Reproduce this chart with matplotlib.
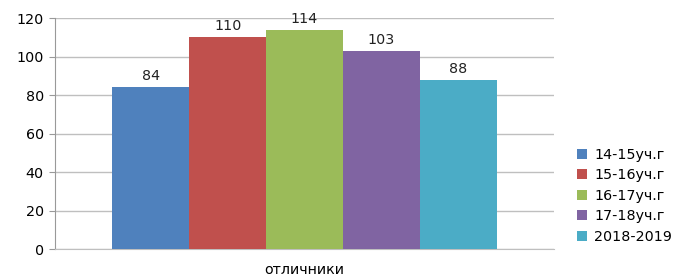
import numpy as np
import matplotlib
matplotlib.use("Agg")
import matplotlib.pyplot as plt

#Dados do grafico
series = ['14-15уч.г', '15-16уч.г', '16-17уч.г', '17-18уч.г', '2018-2019']
valores = [84, 110, 114, 103, 88]
cores = ['#4F81BD', '#C0504D', '#9BBB59', '#8064A2', '#4BACC6']
categoria = 'отличники'

plt.rcParams['font.family'] = 'DejaVu Sans'
fs = 10.3

fig = plt.figure(figsize=(6.74, 2.78), dpi=100)
ax = fig.add_axes([0.0816, 0.1043, 0.7404, 0.8309])

largura = 0.77 / len(series)
x0 = -0.77 / 2 + largura / 2
for i in range(len(series)):
    xpos = x0 + i * largura
    ax.bar(xpos, valores[i], width=largura, color=cores[i], label=series[i], zorder=3)
    ax.text(xpos, valores[i] + 2, str(valores[i]), ha='center', va='bottom', fontsize=fs, color='#222222')

ax.set_xlim(-0.5, 0.5)
ax.set_ylim(0, 120)
ax.set_yticks(np.arange(0, 121, 20))
ax.tick_params(axis='y', labelsize=fs, length=4, color='#999999', pad=4)
ax.set_xticks([0])
ax.set_xticklabels([categoria], fontsize=fs)
ax.tick_params(axis='x', length=0, pad=10)
ax.grid(axis='y', color='#BFBFBF', linewidth=1, zorder=0)
for s in ['top', 'right']:
    ax.spines[s].set_visible(False)
ax.spines['left'].set_color('#999999')
ax.spines['bottom'].set_color('#BFBFBF')

ax.legend(loc='center left', bbox_to_anchor=(1.02, 0.23), frameon=False,
          fontsize=fs, handlelength=0.7, handleheight=0.7, labelspacing=0.45,
          handletextpad=0.5)

plt.savefig('out.png', dpi=100)
